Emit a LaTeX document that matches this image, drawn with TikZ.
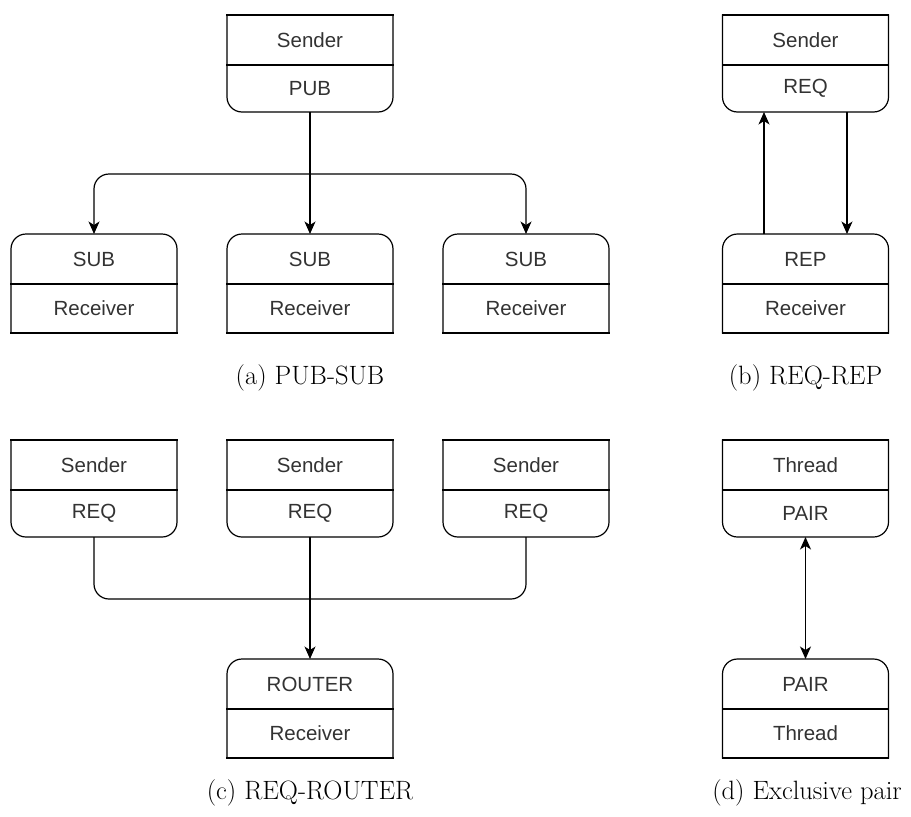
\documentclass[tikz,border=0pt]{standalone}
\usepackage{fontspec}
\setsansfont{Liberation Sans}
\usetikzlibrary{arrows.meta,calc}

\definecolor{txt}{HTML}{333333}

\tikzset{
  part/.style={minimum width=166pt, inner sep=0pt, outer sep=0pt,
               font=\sffamily\fontsize{20.5}{24}\selectfont, text=txt},
  boxline/.style={draw=black, line width=1.2pt, line cap=rect},
  conn/.style={draw=black, line width=1.2pt},
  head/.style={Stealth[length=12.5pt,width=11pt,inset=3.5pt]},
  tip/.style={-{Stealth[length=12.5pt,width=11pt,inset=3.5pt]}},
  twotip/.style={{Stealth[length=12.5pt,width=11pt,inset=3.5pt]}-{Stealth[length=12.5pt,width=11pt,inset=3.5pt]}},
  caption/.style={font=\fontsize{26.5}{30}\selectfont, inner sep=0pt},
}

% socket box with rounded lower corners: name, top centre, upper text, lower text
\newcommand\lowround[4]{%
  \node[part, minimum height=50pt, anchor=north] (#1-u) at (#2) {#3};
  \node[part, minimum height=47pt, anchor=north] (#1-l) at (#1-u.south) {#4};
  \draw[boxline] (#1-u.north west) -- (#1-u.north east)
                 (#1-u.south west) -- (#1-u.south east);
  \draw[boxline, rounded corners=15pt] (#1-u.north west) -- (#1-l.south west)
        -- (#1-l.south east) -- (#1-u.north east);
}
% socket box with rounded upper corners: name, top centre, upper text, lower text
\newcommand\topround[4]{%
  \node[part, minimum height=50pt, anchor=north] (#1-u) at (#2) {#3};
  \node[part, minimum height=49pt, anchor=north] (#1-l) at (#1-u.south) {#4};
  \draw[boxline] (#1-l.south west) -- (#1-l.south east)
                 (#1-u.south west) -- (#1-u.south east);
  \draw[boxline, rounded corners=15pt] (#1-l.south west) -- (#1-u.north west)
        -- (#1-u.north east) -- (#1-l.south east);
}

\begin{document}
\begin{tikzpicture}[x=1pt, y=-1pt]
  \useasboundingbox (0,0) rectangle (911,817);

  % (a) PUB-SUB
  \lowround{pub}{310,15}{Sender}{PUB}
  \topround{suba}{94,234}{SUB}{Receiver}
  \topround{subb}{310,234}{SUB}{Receiver}
  \topround{subc}{526,234}{SUB}{Receiver}
  \coordinate (fork) at (310,174);
  \draw[conn, tip] (pub-l.south) -- (subb-u.north);
  \draw[conn, tip, rounded corners=15pt] (fork) -| (suba-u.north);
  \draw[conn, tip, rounded corners=15pt] (fork) -| (subc-u.north);
  \node[caption] (capa) at (310,378) {(a) PUB-SUB};

  % (b) REQ-REP
  \lowround{req}{805.5,15}{Sender}{REQ}
  \topround{rep}{805.5,234}{REP}{Receiver}
  \draw[conn, tip] ($(rep-u.north west)!.25!(rep-u.north east)$)
        -- ($(req-l.south west)!.25!(req-l.south east)$);
  \draw[conn, tip] ($(req-l.south west)!.75!(req-l.south east)$)
        -- ($(rep-u.north west)!.75!(rep-u.north east)$);
  \node[caption] (capb) at (805.5,378) {(b) REQ-REP};

  % (c) REQ-ROUTER
  \lowround{sa}{94,440}{Sender}{REQ}
  \lowround{sb}{310,440}{Sender}{REQ}
  \lowround{sc}{526,440}{Sender}{REQ}
  \topround{router}{310,659}{ROUTER}{Receiver}
  \coordinate (merge) at (310,599);
  \draw[conn, rounded corners=15pt] (sa-l.south) |- (merge) -| (sc-l.south);
  \draw[conn, tip] (sb-l.south) -- (router-u.north);
  \node[caption] (capc) at (310,793) {(c) REQ-ROUTER};

  % (d) Exclusive pair
  \lowround{tha}{805.5,440}{Thread}{PAIR}
  \topround{thb}{805.5,659}{PAIR}{Thread}
  \draw[conn, twotip] (tha-l.south) -- (thb-u.north);
  \node[caption] (capd) at (807,793) {(d) Exclusive pair};
\end{tikzpicture}
\end{document}
